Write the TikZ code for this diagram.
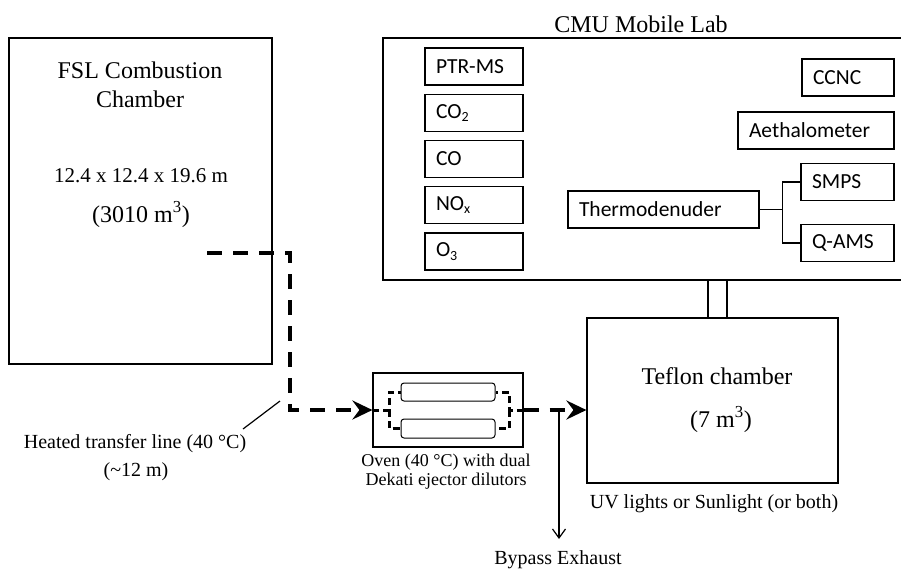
\documentclass[tikz,border=0pt]{standalone}
\usepackage{fontspec}
\setmainfont{Liberation Serif}
\newfontfamily\calfont{Carlito}
\usetikzlibrary{arrows.meta}
\newcommand\mysubs[1]{\raisebox{-0.35ex}{\fontsize{14}{14}\selectfont #1}}
\begin{document}
\begin{tikzpicture}[x=1pt,y=-1pt,
  boxline/.style={line width=1.2pt},
  box/.style={draw,line width=1.2pt,inner sep=0pt},
  instr/.style={draw,line width=1.2pt,font=\calfont\fontsize{21.5}{24}\selectfont,align=left,inner xsep=11pt,inner ysep=0pt,minimum height=37pt},
  lbl/.style={anchor=base,inner sep=0pt,font=\fontsize{20}{24}\selectfont},
  biglbl/.style={anchor=base,inner sep=0pt,font=\fontsize{24}{28}\selectfont},
  pipe/.style={line width=4pt,dash pattern=on 15pt off 11pt},
  ipipe/.style={line width=3pt,dash pattern=on 7pt off 4pt},
  thinline/.style={line width=1.2pt},
  bigtip/.style={-{Stealth[length=20pt,width=19pt,inset=7pt]}}
]
\useasboundingbox (0,0) rectangle (901,568);

% FSL chamber
\node[box,minimum width=263pt,minimum height=326pt] (fsl) at (140.5,201) {};
\node[biglbl] (fslt1) at (140,78) {FSL Combustion};
\node[biglbl] (fslt2) at (140,107) {Chamber};
\node[lbl,font=\fontsize{21}{24}\selectfont] (dims) at (141,182) {12.4 x 12.4 x 19.6 m};
\node[biglbl] (vol) at (141,222) {(3010 m\textsuperscript{3})};

% Mobile lab
\draw[boxline] (905,38) -- (383,38) -- (383,280) -- (905,280);
\node[biglbl] (cmu) at (641,32) {CMU Mobile Lab};

\node[instr,text width=76pt] (ptr) at (474,66.5) {PTR-MS};
\node[instr,text width=76pt] (co2) at (474,113) {CO\mysubs{2}};
\node[instr,text width=76pt] (co) at (474,159) {CO};
\node[instr,text width=76pt] (nox) at (474,205) {NO\mysubs{x}};
\node[instr,text width=76pt] (o3) at (474,251.5) {O\mysubs{3}};

\node[instr,text width=70pt] (ccnc) at (848,77.5) {CCNC};
\node[instr,text width=134pt] (aeth) at (816,130.5) {Aethalometer};
\node[instr,text width=71pt] (smps) at (847.5,182) {SMPS};
\node[instr,text width=71pt] (qams) at (847.5,243) {Q-AMS};
\node[instr,text width=169pt] (thermo) at (663.5,209.5) {Thermodenuder};

\draw[thinline] (thermo.east) -- ++(23,0) coordinate (tj);
\draw[thinline] (smps.west) -| (tj);
\draw[thinline] (qams.west) -| (tj);

% Teflon chamber
\node[box,minimum width=251pt,minimum height=165pt] (teflon) at (712.5,400.5) {};
\node[biglbl] (tef1) at (717,384) {Teflon chamber};
\node[biglbl] (tef2) at (721,427) {(7 m\textsuperscript{3})};
\node[lbl] (uv) at (714,508) {UV lights or Sunlight (or both)};

\coordinate (lab1) at (708,280);
\coordinate (lab2) at (727,280);
\draw[thinline] (lab1) -- (lab1 |- teflon.north);
\draw[thinline] (lab2) -- (lab2 |- teflon.north);

% Oven
\node[box,minimum width=150pt,minimum height=74pt] (oven) at (448,410) {};
\node[draw,line width=1pt,rounded corners=3pt,minimum width=94pt,minimum height=18pt,inner sep=0pt] (ovtop) at (448,392) {};
\node[draw,line width=1pt,rounded corners=3pt,minimum width=94pt,minimum height=19pt,inner sep=0pt] (ovbot) at (448,428.5) {};
\coordinate (ovL) at (389,410);
\coordinate (ovR) at (509,410);
\draw[ipipe] (oven.west) -- (ovL) |- (ovtop.west);
\draw[ipipe] (ovL) |- (ovbot.west);
\draw[ipipe] (oven.east) -- (ovR) |- (ovtop.east);
\draw[ipipe] (ovR) |- (ovbot.east);
\node[lbl,font=\fontsize{18}{22}\selectfont] (ov1) at (446,466) {Oven (40 °C) with dual};
\node[lbl,font=\fontsize{18}{22}\selectfont] (ov2) at (446,485) {Dekati ejector dilutors};

% Transfer line
\coordinate (tlS) at (207,253);
\coordinate (bend) at (290,330);
\draw[pipe,bigtip] (tlS) -| (bend) |- (oven.west);
\coordinate (leadA) at (243,429);
\coordinate (leadB) at (280,401);
\draw[thinline] (leadA) -- (leadB);
\node[lbl] (heat1) at (135,448) {Heated transfer line (40 °C)};
\node[lbl] (heat2) at (136,476) {(\textasciitilde12 m)};

% Oven to Teflon and bypass
\draw[pipe,bigtip] (oven.east) -- (oven.east -| teflon.west);
\coordinate (byp) at (559,410);
\coordinate (bypEnd) at (559,539);
\draw[thinline,-{Straight Barb[length=9pt,width=13pt]}] (byp) -- (bypEnd);
\node[lbl] (bypass) at (558,564) {Bypass Exhaust};
\end{tikzpicture}
\end{document}
